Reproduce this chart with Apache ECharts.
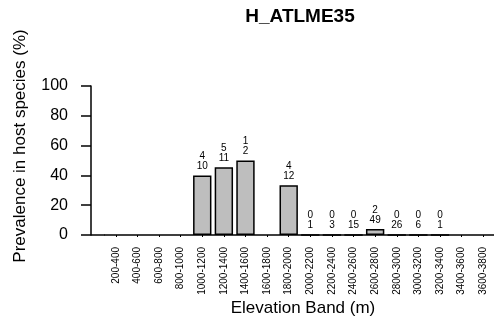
<!DOCTYPE html>
<html>
<head>
<meta charset="utf-8">
<script src="https://cdn.jsdelivr.net/npm/echarts@6/dist/echarts.min.js"></script>
<style>
  html, body { margin: 0; padding: 0; background: #fff; }
  #chart { width: 494px; height: 325px; }
</style>
</head>
<body>
<div id="chart"></div>
<script>
// Elevation bands (m)
const bands = ['200-400', '400-600', '600-800', '800-1000', '1000-1200', '1200-1400',
  '1400-1600', '1600-1800', '1800-2000', '2000-2200', '2200-2400', '2400-2600',
  '2600-2800', '2800-3000', '3000-3200', '3200-3400', '3400-3600', '3600-3800'];
// Infected host species per band (null = band not sampled)
const positives = [null, null, null, null, 4, 5, 1, null, 4, 0, 0, 0, 2, 0, 0, 0, null, null];
// Host species examined per band
const totals = [null, null, null, null, 10, 11, 2, null, 12, 1, 3, 15, 49, 26, 6, 1, null, null];
// Y axis ticks
const yTicks = [0, 20, 40, 60, 80, 100];

// Prevalence (%) = infected / examined
const prevalence = positives.map((p, i) => (p == null ? null : (100 * p) / totals[i]));

const font = 'Liberation Sans, Arial, sans-serif';
const chart = echarts.init(document.getElementById('chart'), null, { renderer: 'canvas' });

chart.setOption({
  animation: false,
  backgroundColor: '#ffffff',
  grid: { left: 105, top: 86, width: 396, height: 149, containLabel: false },
  xAxis: {
    type: 'category',
    data: bands,
    axisLine: { show: true, lineStyle: { color: '#000', width: 1.5 } },
    axisTick: { show: true, alignWithLabel: true, length: 2, lineStyle: { color: '#000' } },
    axisLabel: { rotate: 90, interval: 0, fontSize: 10, margin: 12, color: '#000', fontFamily: font }
  },
  yAxis: {
    type: 'value',
    min: yTicks[0],
    max: yTicks[yTicks.length - 1],
    interval: yTicks[1] - yTicks[0],
    offset: 14,
    splitLine: { show: false },
    axisLine: { show: true, lineStyle: { color: '#000', width: 1.5 } },
    axisTick: { show: true, length: 10, lineStyle: { color: '#000', width: 1.5 } },
    axisLabel: { fontSize: 16, margin: 23, color: '#000', fontFamily: font }
  },
  series: [{
    type: 'bar',
    data: prevalence,
    barWidth: '85%',
    itemStyle: { color: '#bebebe', borderColor: '#000', borderWidth: 1.5 },
    label: {
      show: true,
      position: 'top',
      distance: 4,
      fontSize: 10,
      lineHeight: 10,
      color: '#000',
      fontFamily: font,
      formatter: (p) => (positives[p.dataIndex] == null ? '' : positives[p.dataIndex] + '\n' + totals[p.dataIndex])
    }
  }],
  graphic: [
    // baseline continued to the left up to the y axis
    { type: 'line', shape: { x1: 91, y1: 235, x2: 105, y2: 235 }, style: { stroke: '#000', lineWidth: 1.5 } },
    { type: 'text', x: 300, y: 17, style: { text: 'H_ATLME35', font: 'bold 19px ' + font, fill: '#000', align: 'center', verticalAlign: 'middle' } },
    { type: 'text', x: 303, y: 308, style: { text: 'Elevation Band (m)', font: '17px ' + font, fill: '#000', align: 'center', verticalAlign: 'middle' } },
    { type: 'text', x: 20, y: 146, rotation: Math.PI / 2, style: { text: 'Prevalence in host species (%)', font: '17px ' + font, fill: '#000', align: 'center', verticalAlign: 'middle' } }
  ]
});
</script>
</body>
</html>
